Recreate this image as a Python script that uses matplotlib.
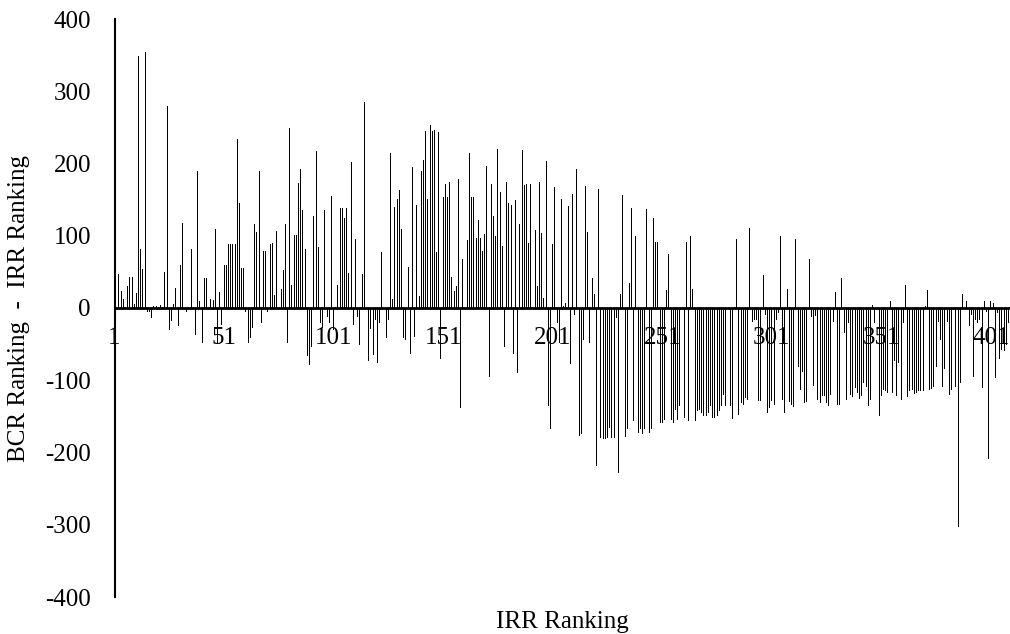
import numpy as np
import matplotlib
matplotlib.use("Agg")
import matplotlib.pyplot as plt


# ==================================
# DATA  (BCR rank - IRR rank)
# ==================================

diff_001_043 = [0, 2, 47, 24, 12, 2, 30, 43, 43, 5, 21, 349, 81, 54, 355,
                -6, -5, -14, 3, 3, 0, 4, 2, 50, 280, -30, -18, 6, 28, -25,
                59, 117, -2, -6, 278, 82, 2, -37, 189, 9, -48, 41, 41]

diff_044_087 = [0, 13, 11, 109, -50, 22, -23, 59, 59, 89, 89, 89, 89, 234,
                145, 56, 56, -5, -49, -42, -28, 116, 105, 190, -21, 79, 79,
                -6, 89, 90, 18, 106, 0, 26, 52, 116, -49, 249, 32, 101, 101,
                173, 193, 135]

diff_088_131 = [81, -67, -79, -54, 128, 217, 85, -21, -28, 135, -12, -21,
                155, -30, 2, 32, 139, 139, 125, 138, 49, 202, -23, 95, -12,
                -51, 47, 285, 0, -74, -29, -65, -17, -76, -21, 78, 118, -42,
                -17, 214, 12, 140, 151, 163]

diff_132_174 = [109, -42, -44, 57, -63, 195, -40, 142, 16, 189, 205, 245,
                151, 253, 245, 247, 78, 243, -71, 153, 171, 154, 174, 43, 24,
                31, 178, -138, 68, 0, 94, 214, 154, 154, 97, 122, 97, 79, 102,
                196, -96, 172, 128]

diff_175_218 = [99, 220, 160, 86, -54, 174, 145, 143, -63, 150, -90, 116,
                218, 170, 171, 90, 171, 74, 108, 30, 174, 104, 14, 203, -136,
                -168, 88, 168, -21, -48, 151, 3, 7, 141, -78, 158, -9, 193,
                -177, -174, -44, 169, 105, -48]

diff_219_261 = [42, 20, -218, 165, -180, -182, -182, -180, -166, -180, -180,
                -14, -229, 20, 156, -179, -168, 35, 139, -157, 99, -173, -168,
                -175, -168, 137, -173, -168, 124, 91, 91, -159, -159, -155, 25,
                75, -155, -159, -141, -155, -136, -143, -152]

diff_262_304 = [91, -156, 100, 26, -156, -142, -141, -145, -150, -149, -146,
                -135, -152, -152, -150, -143, -136, -120, -136, -143, -136,
                -154, 2, 96, -148, -132, -134, -125, -127, 111, -19, -17, -17,
                -129, -129, 46, -10, -146, -139, -129, -134, -17, -7]

diff_305_347 = [99, -128, -145, 26, -130, -134, -137, 95, -82, -113, -89,
                -132, -130, 68, -13, -108, -11, -128, -132, -122, -122, -132,
                -136, -120, -19, 22, -134, -134, 41, -34, -128, -21, -121,
                -123, -111, -118, -126, -122, -104, -109, -136, -127, 4]

diff_348_409 = [-21, 29, -150, -122, -113, -115, -118, 10, -118, -74, -122,
                -76, -127, -21, 32, -123, -115, -113, -119, -117, -115, -115,
                -115, 3, 25, -113, -112, -109, -82, -20, -44, -110, -84, -20,
                -120, -113, -3, -109, -303, -104, 20, 0, 9, -25, -10, -95,
                -17, -21, -17, -111, 10, -5, -209, 10, 7, -97, -7, -71, -58,
                -60, -51, -21]

rank_diff = (diff_001_043 + diff_044_087 + diff_088_131 + diff_132_174
             + diff_175_218 + diff_219_261 + diff_262_304 + diff_305_347
             + diff_348_409)

irr_rank = np.arange(1, len(rank_diff) + 1)

x_ticks = [1, 51, 101, 151, 201, 251, 301, 351, 401]
x_tick_labels = [str(t) for t in x_ticks]
y_ticks = [-400, -300, -200, -100, 0, 100, 200, 300, 400]


# ==================================
# PLOT
# ==================================

plt.rcParams["font.family"] = ["Liberation Serif", "DejaVu Serif"]
plt.rcParams["font.size"] = 18
plt.rcParams["axes.unicode_minus"] = False

W, H = 1010, 634
fig = plt.figure(figsize=(W / 100, H / 100), dpi=100)
ax = fig.add_axes([114.5 / W, 1 - 597 / H, (W - 114.5) / W, (597 - 19) / H])

ax.bar(irr_rank, rank_diff, width=0.45, color="black", linewidth=0)

ax.set_xlim(1, 409.7)
ax.set_ylim(-400, 400)

ax.spines["top"].set_visible(False)
ax.spines["right"].set_visible(False)
ax.spines["bottom"].set_position(("data", 0))
ax.spines["bottom"].set_linewidth(2)
ax.spines["left"].set_linewidth(1.5)

ax.set_xticks(x_ticks, x_tick_labels)
ax.set_yticks(y_ticks)
ax.tick_params(length=0)
ax.tick_params(axis="y", pad=17)
ax.tick_params(axis="x", pad=14)

ax.set_xlabel("IRR Ranking")
ax.xaxis.set_label_coords(0.5, -0.025)
ax.set_ylabel("BCR Ranking  -  IRR Ranking")
ax.yaxis.set_label_coords(-0.094, 0.5)

fig.savefig("out.png", dpi=100)
